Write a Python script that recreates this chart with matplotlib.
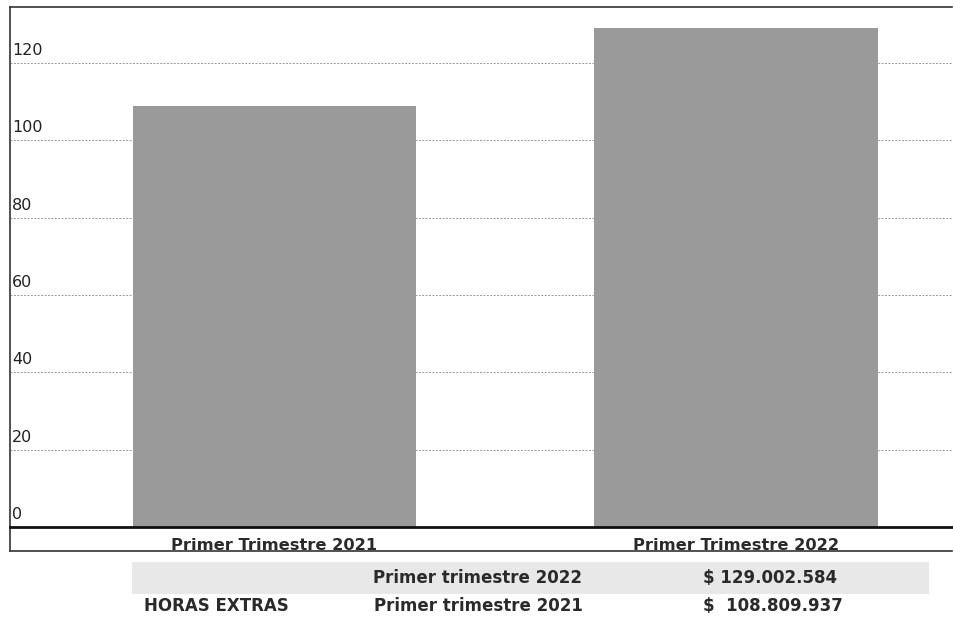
import matplotlib
matplotlib.use("Agg")
import matplotlib.pyplot as plt
from matplotlib.lines import Line2D
from matplotlib.patches import Rectangle

categories = ["Primer Trimestre 2021", "Primer Trimestre 2022"]
values = [108.809937, 129.002584]  # millones de pesos
yticks = [0, 20, 40, 60, 80, 100, 120]
table_label = "HORAS EXTRAS"
table_periods = ["Primer trimestre 2022", "Primer trimestre 2021"]
table_amounts = ["$ 129.002.584", "$  108.809.937"]

plt.rcParams['font.family'] = ['DejaVu Sans']

W, H = 954, 618
fig = plt.figure(figsize=(W / 100, H / 100), dpi=100)
fig.patch.set_facecolor('white')

def fx(px):
    return px / W

def fy(py):
    return 1 - py / H

ax_left, ax_right, ax_top, ax_bottom = 10, 954, 7, 527
ax = fig.add_axes([fx(ax_left), fy(ax_bottom), fx(ax_right - ax_left), (ax_bottom - ax_top) / H])
ax.set_frame_on(False)

x = list(range(len(categories)))
ax.bar(x, values, width=0.614, color='#9a9a9a', edgecolor='none', zorder=3)

ppu = 461.5
x0 = 0 - (274.5 - ax_left) / ppu
ax.set_xlim(x0, x0 + (ax_right - ax_left) / ppu)
ax.set_ylim(0, (ax_bottom - ax_top) / ((ax_bottom - 63) / 120))

for t in yticks[1:]:
    ax.axhline(t, color='#9a9a9a', lw=0.7, ls=(0, (2, 1.5)), zorder=1)
for t in yticks:
    ax.annotate(str(t), xy=(0, t), xycoords=('axes fraction', 'data'),
                xytext=(1.5, 3.5), textcoords='offset points', ha='left', va='bottom',
                fontsize=11.5, color='#222222')

ax.set_xticks([])
ax.set_yticks([])

# frame lines (no right border)
xr = fx(952)
fig.add_artist(Line2D([fx(ax_left), fx(ax_left)], [fy(551), fy(ax_top)], color='#333333', lw=1.2))
fig.add_artist(Line2D([fx(ax_left), xr], [fy(ax_top), fy(ax_top)], color='#333333', lw=1.2))
fig.add_artist(Line2D([fx(ax_left), xr], [fy(ax_bottom), fy(ax_bottom)], color='#111111', lw=2.0))
fig.add_artist(Line2D([fx(ax_left), xr], [fy(551), fy(551)], color='#333333', lw=1.2))

for xi, c in zip(x, categories):
    ax.annotate(c, xy=(xi, 0), xycoords='data', xytext=(0, -13.5), textcoords='offset points',
                ha='center', va='center', fontsize=11.7, fontweight='bold', color='#2a2a2a',
                annotation_clip=False)

# table below
fig.add_artist(Rectangle((fx(132), fy(594)), fx(929 - 132), (594 - 562) / H,
                         facecolor='#e8e8e8', edgecolor='none'))
row_y = [578, 606]
for ry, per, amt in zip(row_y, table_periods, table_amounts):
    fig.text(fx(478), fy(ry), per, ha='center', va='center', fontsize=12, fontweight='bold', color='#2a2a2a')
    fig.text(fx(703), fy(ry), amt, ha='left', va='center', fontsize=12, fontweight='bold', color='#2a2a2a')
fig.text(fx(216), fy(606), table_label, ha='center', va='center', fontsize=12, fontweight='bold', color='#2a2a2a')

fig.savefig("out.png", dpi=100)
